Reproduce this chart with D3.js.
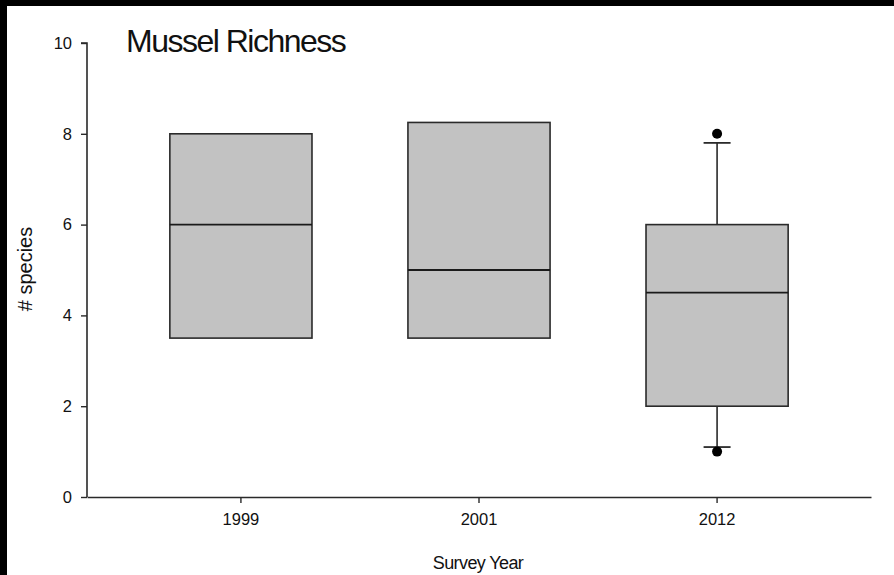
<!DOCTYPE html>
<html>
<head>
<meta charset="utf-8">
<script src="https://cdn.jsdelivr.net/npm/d3@7"></script>
<style>
  html, body { margin: 0; padding: 0; background: #fff; }
  svg { display: block; }
  text { font-family: "Liberation Sans", Arial, sans-serif; fill: #111; }
</style>
</head>
<body>
<svg id="chart" width="894" height="575"></svg>
<script>
// Survey years and box statistics (# species per site)
const years = ["1999", "2001", "2012"];
const q1 = [3.5, 3.5, 2];
const median = [6, 5, 4.5];
const q3 = [8, 8.25, 6];
const whiskerLow = [null, null, 1.1];
const whiskerHigh = [null, null, 7.8];
const outliers = [[], [], [8, 1]];
const yTicks = [0, 2, 4, 6, 8, 10];

const W = 894, H = 575;
const svg = d3.select("#chart");

// frame
svg.append("rect").attr("x", 0).attr("y", 0).attr("width", W).attr("height", H).attr("fill", "#fff");
svg.append("rect").attr("x", 0).attr("y", 0).attr("width", W).attr("height", 6).attr("fill", "#000");
svg.append("rect").attr("x", 0).attr("y", 0).attr("width", 7).attr("height", H).attr("fill", "#000");

const plotLeft = 87, plotRight = 871, plotTop = 43, plotBottom = 497;

const x = d3.scaleBand().domain(years).range([plotLeft, plotRight])
  .paddingInner(0.403).paddingOuter(0.348);
const y = d3.scaleLinear().domain([0, 10]).range([plotBottom, plotTop]);

const ink = "#2a2a2a";

// y axis
const yAxis = svg.append("g").attr("transform", `translate(${plotLeft},0)`)
  .call(d3.axisLeft(y).tickValues(yTicks).tickSize(6).tickPadding(9).tickFormat(d3.format("d")));
yAxis.select(".domain").attr("stroke", ink).attr("stroke-width", 1.6).attr("d", `M-6,${plotTop}H0V${plotBottom}`);
yAxis.selectAll(".tick line").attr("stroke", ink).attr("stroke-width", 1.4);
yAxis.selectAll(".tick text").attr("font-size", 16.5).attr("fill", "#111")
  .style("font-family", "'Liberation Sans', Arial, sans-serif");

// x axis
const xAxis = svg.append("g").attr("transform", `translate(0,${plotBottom})`)
  .call(d3.axisBottom(x).tickSize(6).tickPadding(10).tickSizeOuter(0));
xAxis.select(".domain").attr("stroke", ink).attr("stroke-width", 1.6);
xAxis.selectAll(".tick line").attr("stroke", ink).attr("stroke-width", 1.4);
xAxis.selectAll(".tick text").attr("font-size", 16.5).attr("fill", "#111")
  .style("font-family", "'Liberation Sans', Arial, sans-serif");

// boxes
const data = years.map((yr, i) => ({
  yr, q1: q1[i], med: median[i], q3: q3[i],
  lo: whiskerLow[i], hi: whiskerHigh[i], out: outliers[i]
}));

const g = svg.append("g");
const capW = 27;
data.forEach(d => {
  const cx = x(d.yr) + x.bandwidth() / 2;
  if (d.hi != null) {
    g.append("line").attr("x1", cx).attr("x2", cx).attr("y1", y(d.q3)).attr("y2", y(d.hi))
      .attr("stroke", ink).attr("stroke-width", 1.6);
    g.append("line").attr("x1", cx - capW / 2).attr("x2", cx + capW / 2).attr("y1", y(d.hi)).attr("y2", y(d.hi))
      .attr("stroke", ink).attr("stroke-width", 1.8);
  }
  if (d.lo != null) {
    g.append("line").attr("x1", cx).attr("x2", cx).attr("y1", y(d.q1)).attr("y2", y(d.lo))
      .attr("stroke", ink).attr("stroke-width", 1.6);
    g.append("line").attr("x1", cx - capW / 2).attr("x2", cx + capW / 2).attr("y1", y(d.lo)).attr("y2", y(d.lo))
      .attr("stroke", ink).attr("stroke-width", 1.8);
  }
  g.append("rect").attr("x", x(d.yr)).attr("width", x.bandwidth())
    .attr("y", y(d.q3)).attr("height", y(d.q1) - y(d.q3))
    .attr("fill", "#c2c2c2").attr("stroke", ink).attr("stroke-width", 1.6);
  g.append("line").attr("x1", x(d.yr)).attr("x2", x(d.yr) + x.bandwidth())
    .attr("y1", y(d.med)).attr("y2", y(d.med)).attr("stroke", "#1a1a1a").attr("stroke-width", 1.8);
  d.out.forEach(v => {
    g.append("circle").attr("cx", cx).attr("cy", y(v)).attr("r", 5).attr("fill", "#000");
  });
});

// title and axis labels
svg.append("text").attr("x", 126).attr("y", 52).attr("font-size", 32)
  .attr("letter-spacing", -1.5).text("Mussel Richness");

svg.append("text").attr("transform", "translate(32,269) rotate(-90)")
  .attr("text-anchor", "middle").attr("font-size", 20).text("# species");

svg.append("text").attr("x", 478).attr("y", 569).attr("text-anchor", "middle")
  .attr("font-size", 18).attr("letter-spacing", -0.6).text("Survey Year");
</script>
</body>
</html>
